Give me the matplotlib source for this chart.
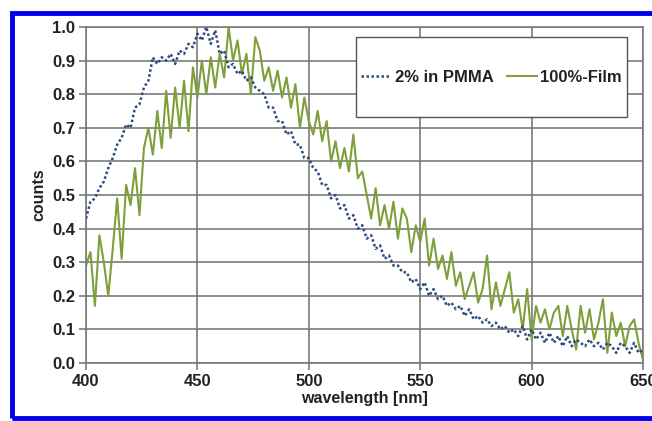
import numpy as np
import matplotlib
matplotlib.use("Agg")
import matplotlib.pyplot as plt
from matplotlib.patches import Rectangle

plt.rcParams['font.family'] = ['Liberation Sans', 'DejaVu Sans']

wavelength = np.arange(400, 651, 2)

pmma_2pct = [
    0.43, 0.48, 0.49, 0.52, 0.54, 0.58, 0.61, 0.65, 0.67, 0.71,
    0.70, 0.76, 0.77, 0.82, 0.84, 0.91, 0.89, 0.91, 0.90, 0.92,
    0.89, 0.93, 0.92, 0.95, 0.94, 0.98, 0.96, 1.00, 0.95, 0.99,
    0.92, 0.93, 0.88, 0.89, 0.86, 0.87, 0.84, 0.85, 0.82, 0.81,
    0.80, 0.76, 0.76, 0.72, 0.72, 0.68, 0.69, 0.65, 0.65, 0.61,
    0.61, 0.58, 0.57, 0.53, 0.53, 0.49, 0.50, 0.46, 0.47, 0.43,
    0.44, 0.40, 0.41, 0.37, 0.38, 0.34, 0.35, 0.31, 0.32, 0.29,
    0.29, 0.27, 0.27, 0.24, 0.25, 0.22, 0.24, 0.20, 0.22, 0.19,
    0.20, 0.17, 0.18, 0.16, 0.17, 0.14, 0.16, 0.13, 0.14, 0.12,
    0.13, 0.11, 0.12, 0.10, 0.11, 0.09, 0.10, 0.08, 0.11, 0.07,
    0.10, 0.07, 0.09, 0.06, 0.09, 0.06, 0.08, 0.05, 0.08, 0.05,
    0.07, 0.06, 0.05, 0.07, 0.05, 0.06, 0.04, 0.06, 0.05, 0.03,
    0.06, 0.05, 0.03, 0.06, 0.03, 0.04,
]

film_100pct = [
    0.29, 0.33, 0.17, 0.38, 0.30, 0.20, 0.34, 0.49, 0.31, 0.53,
    0.47, 0.58, 0.44, 0.64, 0.70, 0.62, 0.75, 0.64, 0.81, 0.67,
    0.82, 0.70, 0.84, 0.69, 0.88, 0.79, 0.90, 0.80, 0.91, 0.82,
    0.92, 0.85, 1.00, 0.90, 0.96, 0.86, 0.92, 0.80, 0.97, 0.93,
    0.84, 0.88, 0.81, 0.87, 0.79, 0.85, 0.76, 0.83, 0.70, 0.79,
    0.72, 0.68, 0.75, 0.66, 0.72, 0.60, 0.66, 0.58, 0.64, 0.57,
    0.68, 0.55, 0.57, 0.50, 0.43, 0.52, 0.41, 0.47, 0.40, 0.48,
    0.37, 0.46, 0.43, 0.33, 0.41, 0.36, 0.43, 0.29, 0.37, 0.28,
    0.32, 0.25, 0.33, 0.23, 0.27, 0.19, 0.23, 0.27, 0.18, 0.22,
    0.32, 0.16, 0.24, 0.17, 0.22, 0.27, 0.15, 0.19, 0.10, 0.22,
    0.07, 0.17, 0.12, 0.16, 0.10, 0.15, 0.17, 0.08, 0.17, 0.10,
    0.04, 0.17, 0.09, 0.16, 0.07, 0.12, 0.19, 0.03, 0.15, 0.08,
    0.12, 0.05, 0.11, 0.13, 0.06, 0.01,
]

x_ticks = [400, 450, 500, 550, 600, 650]
y_ticks = [0.0, 0.1, 0.2, 0.3, 0.4, 0.5, 0.6, 0.7, 0.8, 0.9, 1.0]

fig = plt.figure(figsize=(6.52, 4.21), dpi=100)
fig.patch.set_facecolor('white')
# blue outer frame
fig.patches.append(Rectangle((12/652, 3/421), 1.2, 405/421, transform=fig.transFigure,
                             fill=False, edgecolor='#0000EE', linewidth=3.5, zorder=0))

ax = fig.add_axes([86/652, 1 - 363/421, 557/652, 336/421])
ax.plot(wavelength, pmma_2pct, color='#2E4B80', linestyle=(0, (1, 1)), linewidth=1.8,
        label='2% in PMMA', zorder=3)
ax.plot(wavelength, film_100pct, color='#7DA03A', linestyle='-', linewidth=1.5,
        label='100%-Film', zorder=2)

ax.set_xlim(400, 650)
ax.set_ylim(0, 1.0)
ax.set_xticks(x_ticks)
ax.set_yticks(y_ticks)
ax.set_xticklabels([str(t) for t in x_ticks], fontsize=12, fontweight='bold', color='#222222')
ax.set_yticklabels([f"{t:.1f}" for t in y_ticks], fontsize=12, fontweight='bold', color='#222222')
ax.grid(True, color='#7a7a7a', linewidth=1.2)
ax.set_axisbelow(True)
ax.tick_params(axis='both', direction='out', length=5, width=1.2, color='#7a7a7a', pad=3)
for s in ax.spines.values():
    s.set_color('#7a7a7a')
    s.set_linewidth(1.2)

ax.set_xlabel('wavelength [nm]', fontsize=11.5, fontweight='bold', color='#222222', labelpad=1)
ax.set_ylabel('counts', fontsize=11.5, fontweight='bold', color='#222222', labelpad=4)

# legend frame
ax.add_patch(Rectangle((0.485, 0.732), 0.486, 0.238, transform=ax.transAxes,
                       facecolor='white', edgecolor='#555555', linewidth=1.0, zorder=4))
leg = ax.legend(loc='center', bbox_to_anchor=(0.728, 0.851), ncol=2, frameon=False,
                prop={'weight': 'bold', 'size': 12}, handlelength=1.8, handletextpad=0.2,
                columnspacing=0.8, borderpad=0.2)
leg.set_zorder(5)
for t in leg.get_texts():
    t.set_color('#222222')

fig.savefig('out.png', dpi=100, facecolor='white')
